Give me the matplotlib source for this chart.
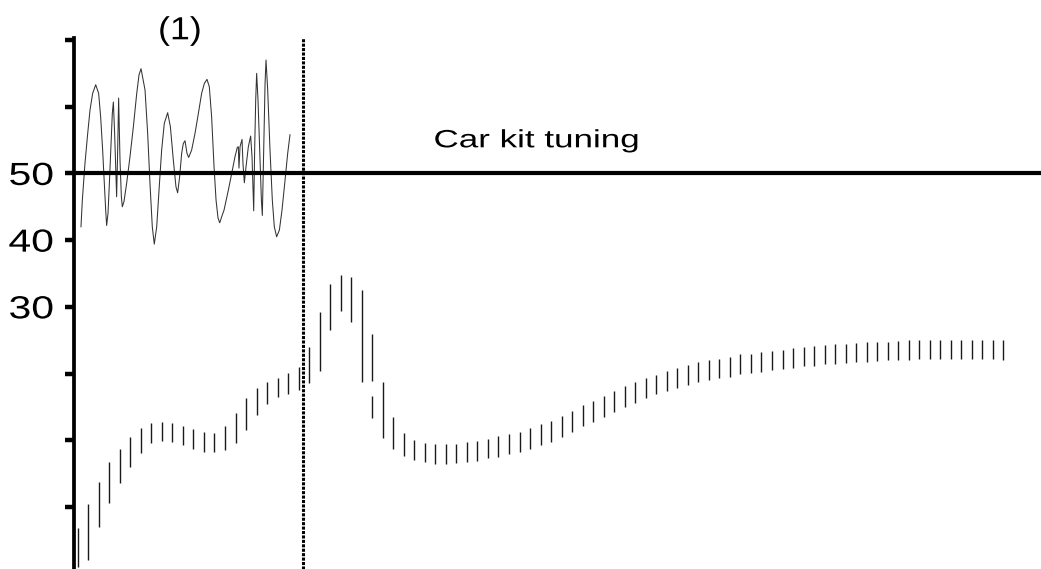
import numpy as np
import matplotlib
matplotlib.use("Agg")
import matplotlib.pyplot as plt
from matplotlib.patheffects import AbstractPathEffect
from matplotlib.transforms import Affine2D

plt.rcParams['font.family'] = ['Liberation Sans', 'DejaVu Sans']

# oscillating trace before the tuning step
curve_x = [0.31, 0.44, 0.69, 0.95, 1.17, 1.42, 1.71, 1.99, 2.18, 2.37, 2.53, 2.66, 2.75,
           2.88, 3.01, 3.17, 3.29, 3.39, 3.51, 3.70, 3.80, 3.89, 4.02, 4.15, 4.24, 4.40,
           4.65, 4.97, 5.29, 5.61, 5.83, 6.02, 6.40, 6.65, 6.87, 7.09, 7.28, 7.51, 7.73,
           7.98, 8.23, 8.55, 8.81, 9.09, 9.34, 9.50, 9.69, 9.88, 10.04, 10.20, 10.39, 10.55,
           10.83, 11.15, 11.47, 11.78, 12.04, 12.29, 12.51, 12.73, 12.96, 13.15, 13.34, 13.50,
           13.75, 13.91, 14.32, 14.64, 14.95, 15.17, 15.27, 15.33, 15.43, 15.62, 15.71, 15.84,
           16.00, 16.22, 16.44, 16.57, 16.73, 16.82, 16.92, 17.01, 17.14, 17.30, 17.46, 17.55,
           17.68, 17.81, 17.90, 18.06, 18.28, 18.50, 18.69, 18.91, 19.17, 19.42, 19.71, 19.96,
           20.18]
curve_y = [42.0, 46.0, 51.5, 56.0, 59.5, 62.0, 63.3, 62.0, 58.5, 53.5, 48.5, 44.5, 42.2,
           44.0, 48.5, 54.5, 59.0, 60.7, 56.0, 46.5, 53.5, 61.3, 52.0, 46.5, 45.0, 45.8,
           48.5, 52.5, 57.0, 62.0, 64.8, 65.7, 62.5, 56.0, 48.5, 42.0, 39.4, 42.0, 47.5,
           53.5, 57.5, 59.1, 57.0, 52.0, 48.0, 47.1, 49.5, 53.0, 54.5, 54.9, 53.0, 52.4,
           53.5, 56.0, 59.0, 62.0, 63.5, 64.1, 63.0, 58.5, 51.0, 46.0, 43.3, 42.6,
           43.8, 44.5, 47.5, 50.0, 52.5, 53.9, 54.0, 50.8, 54.0, 55.1, 51.5, 48.6,
           51.0, 54.0, 55.6, 52.5, 44.4, 53.5, 61.0, 65.0, 61.0, 53.5, 46.0, 43.7,
           53.5, 63.5, 67.0, 62.5, 53.5, 46.0, 42.0, 40.5, 41.5, 44.5, 49.0, 53.0,
           55.8]

# range bars, one per sample
bar_hi = [-3.2, 0.5, 3.8, 6.7, 8.7, 10.5, 11.8, 12.6, 12.7, 12.6, 12.1, 11.7, 11.2, 11.1,
          12.1, 14.1, 16.3, 17.8, 18.7, 19.3, 20.1, 21.0,
          24.0, 29.2, 33.4, 34.8, 34.5, 32.5, 25.9, 18.7, 13.5, 11.1, 10.0, 9.6, 9.4, 9.4,
          9.4, 9.7, 9.9, 10.2, 10.6, 10.9, 11.2, 11.8, 12.4, 12.9, 13.6, 14.4, 15.3, 15.9,
          16.6, 17.4, 18.1, 18.7, 19.3, 19.8, 20.4, 20.9, 21.3, 21.7, 22.0, 22.2, 22.5, 22.9,
          23.0, 23.3, 23.4, 23.6, 23.8, 24.0, 24.1, 24.3, 24.4, 24.5, 24.6, 24.7, 24.8, 24.8,
          24.9, 25.0, 25.0, 25.1, 25.1, 25.1, 25.1, 25.1, 25.1, 25.1, 25.0]
bar_lo = [-9.0, -8.0, -3.0, 0.6, 3.6, 6.0, 8.1, 9.6, 9.9, 9.7, 9.3, 8.7, 8.2, 8.2,
          8.5, 9.6, 11.5, 13.8, 15.4, 16.5, 16.9, 17.5,
          18.6, 20.4, 26.5, 29.4, 27.7, 18.7, 18.9, 10.3, 8.7, 7.6, 7.0, 6.7, 6.4, 6.4,
          6.6, 6.7, 6.9, 7.3, 7.5, 7.9, 8.2, 8.7, 9.3, 9.7, 10.5, 11.2, 12.1, 12.7,
          13.5, 14.2, 15.0, 15.6, 16.3, 16.9, 17.4, 17.9, 18.3, 18.8, 19.0, 19.3, 19.5, 19.9,
          20.1, 20.3, 20.5, 20.7, 20.8, 21.1, 21.2, 21.4, 21.5, 21.6, 21.7, 21.8, 21.9, 22.0,
          22.1, 22.1, 22.2, 22.2, 22.2, 22.2, 22.2, 22.2, 22.2, 22.2, 22.1]
bar_x = np.arange(len(bar_hi))
# split bar right after the peak
extra_x, extra_lo, extra_hi = 28, 13.3, 16.6

step_x = 21.39
ref_level = 50
ytick_vals = [0, 10, 20, 30, 40, 50, 60, 70]
ytick_text = ['', '', '', '30', '40', '50', '', '']


class Stretch(AbstractPathEffect):
    # widen text horizontally around its anchor
    def __init__(self, sx, anchor='center'):
        super().__init__()
        self.sx = sx
        self.anchor = anchor

    def draw_path(self, renderer, gc, tpath, affine, rgbFace=None):
        bb = tpath.get_extents(affine)
        if self.anchor == 'right':
            cx = bb.x1
        elif self.anchor == 'left':
            cx = bb.x0
        else:
            cx = (bb.x0 + bb.x1) / 2
        tr = affine + Affine2D().translate(-cx, 0).scale(self.sx, 1).translate(cx, 0)
        renderer.draw_path(gc, tpath, tr, rgbFace)


W, H = 1041, 569
fig = plt.figure(figsize=(W / 100, H / 100), dpi=100)
ax = fig.add_axes([73.5 / W, 0, 1 - 73.5 / W, 1])
ax.set_xlim(-0.4, 91.57)
ax.set_ylim(-9.3, 76.0)

ax.plot(curve_x, curve_y, color='#333333', lw=0.75)
ax.vlines(bar_x, bar_lo, bar_hi, colors='#1a1a1a', lw=1.0)
ax.vlines([extra_x], [extra_lo], [extra_hi], colors='#1a1a1a', lw=1.0)

ax.axhline(ref_level, color='black', lw=3.0)
ax.plot([step_x, step_x], [-9.3, 70.3], color='black', lw=2.2,
        linestyle=(0, (1, 0.45)), solid_capstyle='butt')

for s in ['top', 'right', 'bottom']:
    ax.spines[s].set_visible(False)
ax.spines['left'].set_linewidth(2.7)
ax.spines['left'].set_bounds(-9.3, 70.3)
ax.set_xticks([])
ax.set_yticks(ytick_vals)
ax.set_yticklabels(ytick_text)
ax.tick_params(axis='y', direction='out', length=6.8, width=3.2, pad=7.5,
               labelsize=23, colors='black')
for lab in ax.get_yticklabels():
    lab.set_path_effects([Stretch(1.28, 'right')])

fig.text(180 / W, 1 - 39.3 / H, '(1)', ha='center', va='baseline', fontsize=23,
         path_effects=[Stretch(1.12)])
fig.text(536.5 / W, 1 - 147.3 / H, 'Car kit tuning', ha='center', va='baseline',
         fontsize=18, path_effects=[Stretch(1.4)])

fig.savefig('out.png', dpi=100)
